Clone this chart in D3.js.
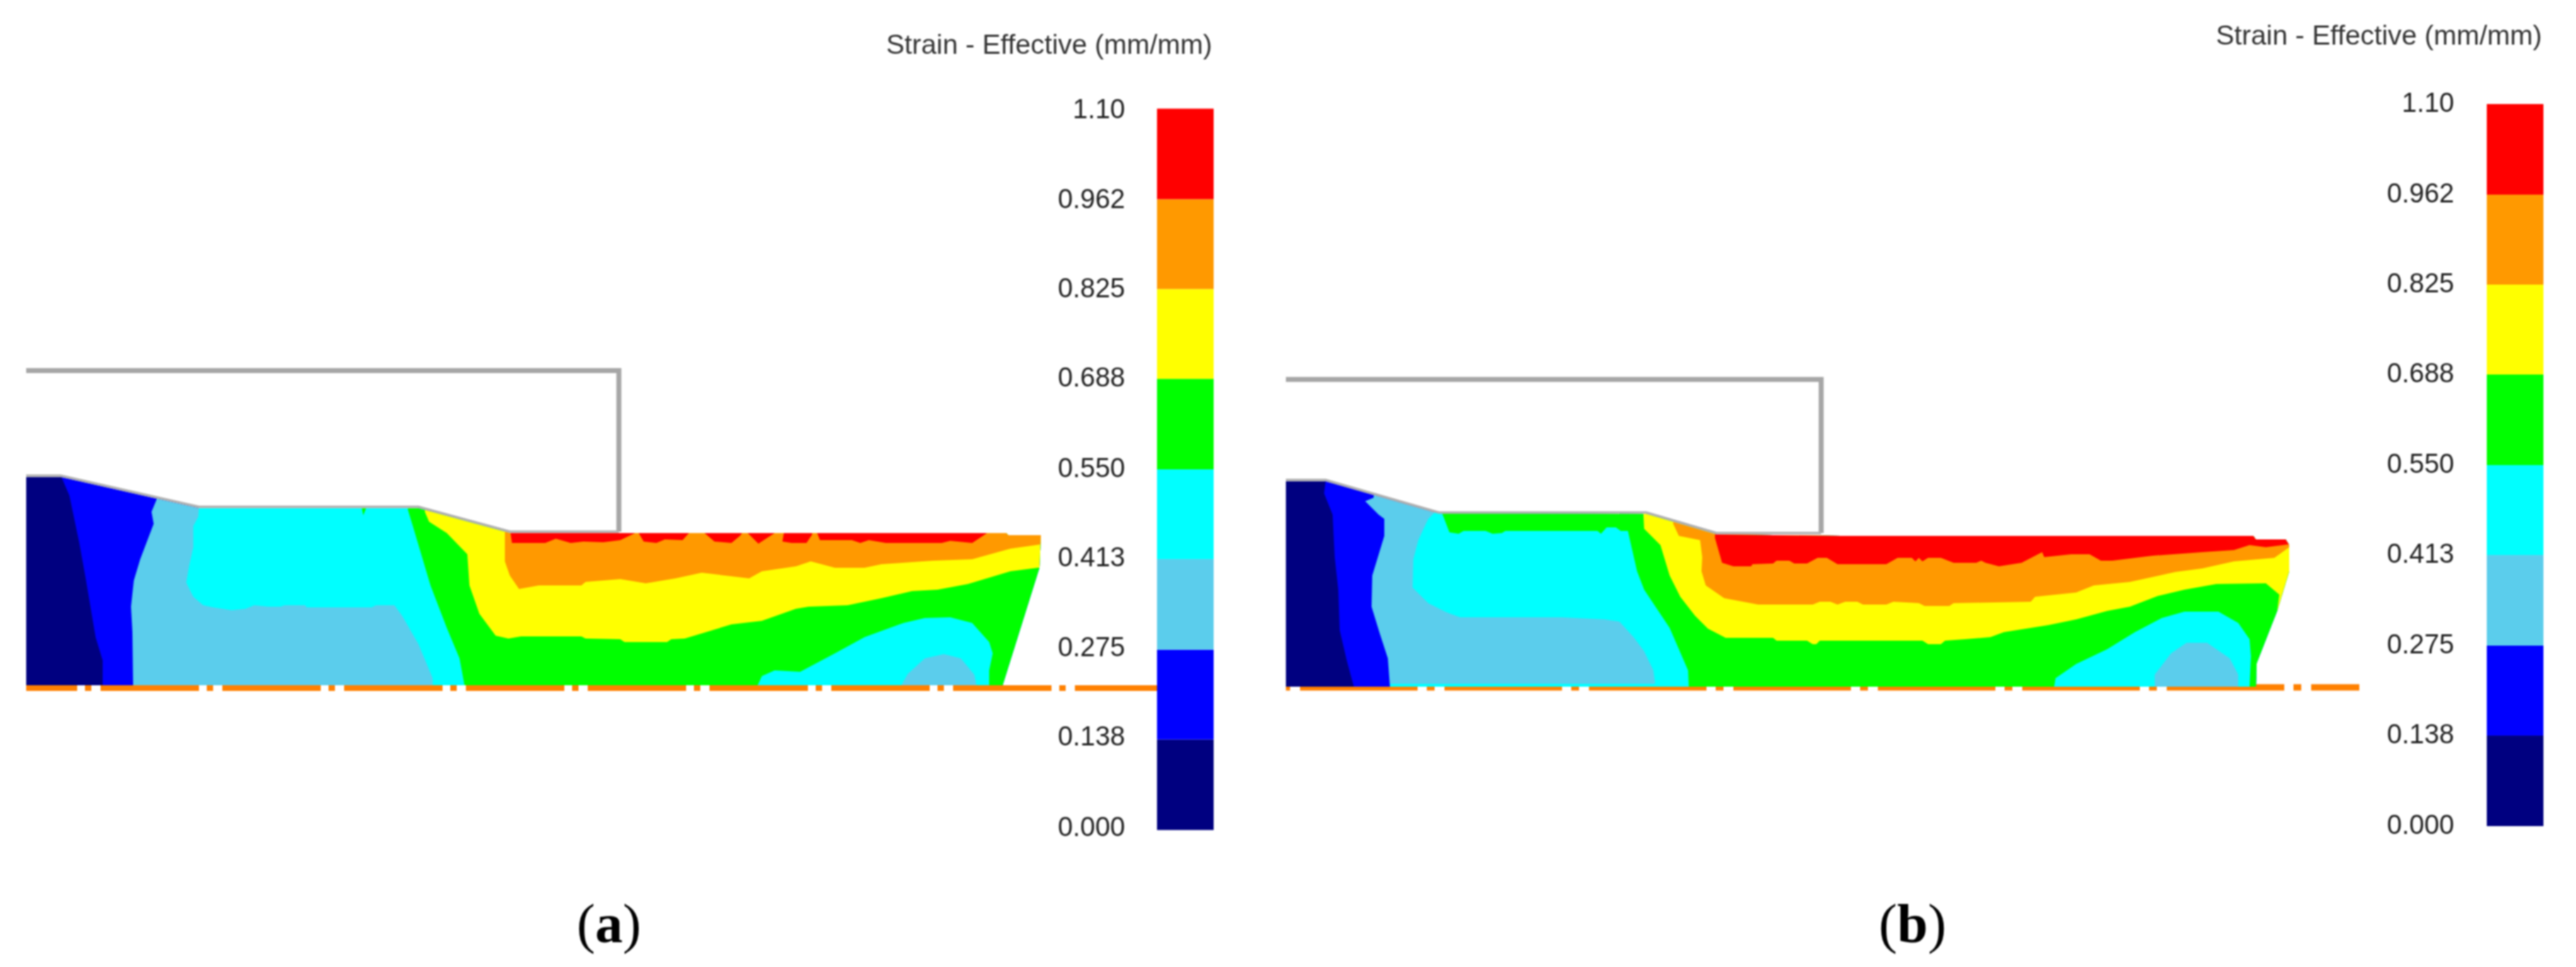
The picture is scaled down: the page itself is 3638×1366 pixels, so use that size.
<!DOCTYPE html>
<html>
<head>
<meta charset="utf-8">
<script src="https://cdnjs.cloudflare.com/ajax/libs/d3/7.8.5/d3.min.js"></script>
<style>
  html, body { margin: 0; padding: 0; background: #fff; }
  svg { display: block; filter: blur(0.8px); }
</style>
</head>
<body>
<svg id="chart" width="3638" height="1366"></svg>
<script>
// legend
const legendTitle = 'Strain - Effective (mm/mm)'
const legendValues = [0, 0.138, 0.275, 0.413, 0.55, 0.688, 0.825, 0.962, 1.10]
const legendLabels = ['0.000', '0.138', '0.275', '0.413', '0.550', '0.688', '0.825', '0.962', '1.10']
const bandColors = ['#000080', '#0000ff', '#5bcdec', '#00ffff', '#00ff00', '#ffff00', '#ff9900', '#ff0000']

// all outlines below are model coords (x along the part, y up from the axis)

// ---- panel a
const aBody = [[0,0],[0,294],[49,294],[244,250],[554,250],[683,215],[1384,215],[1387,212],[1433,212],[1431,166],[1379,0]]
const aSurface = [[0,296],[49,296],[244,252],[554,252],[683,217],[837,217]]
const aTool = [[0,444.5],[837,444.5],[837,217]]
const aBlue = [[49,296],[61,268],[75,201],[84,151],[98,68],[108,35],[108,0],[1500,0],[1500,300],[49,300]]
const aLight = [[184,262],[177,245],[180,228],[161,178],[152,148],[148,111],[150,75],[151,0],[1500,0],[1500,300],[184,300]]
const aCyan = [[244,250],[243,238],[236,225],[236,195],[230,168],[226,145],[236,125],[250,113],[264,110],[290,106],[310,108],[322,113],[342,111],[359,111],[365,113],[394,113],[396,110],[488,110],[494,113],[520,113],[531,98],[554,58],[574,10],[574,0],[1500,0],[1500,300],[244,300]]
const aGreen = [[539,248],[546,225],[571,141],[594,81],[612,38],[619,0],[1500,0],[1500,300],[539,300]]
const aGreenSpot = [[474,250],[480,250],[476,240]]
const aYellow = [[563,245],[569,231],[594,215],[623,185],[626,141],[640,101],[663,70],[681,66],[699,69],[784,69],[790,66],[839,65],[845,61],[905,61],[911,65],[930,66],[960,75],[996,86],[1039,91],[1087,108],[1105,111],[1160,113],[1208,123],[1251,133],[1287,135],[1330,143],[1390,161],[1429,166],[1500,166],[1500,300],[563,300]]
const aOrange = [[676,300],[676,175],[683,155],[696,136],[724,141],[784,141],[790,146],[839,150],[875,144],[917,151],[954,159],[1021,151],[1039,161],[1087,168],[1108,175],[1142,166],[1184,166],[1208,171],[1281,176],[1336,178],[1390,193],[1433,199],[1500,199],[1500,300]]
const aRed = [
  [[684,215],[686,201],[733,201],[748,207],[769,201],[787,203],[815,202],[839,205],[860,215]],
  [[865,215],[872,203],[890,201],[902,206],[927,205],[936,215]],
  [[958,215],[972,203],[996,201],[1008,211],[1011,215]],
  [[1019,215],[1034,200],[1057,215]],
  [[1070,215],[1068,203],[1081,201],[1102,201],[1110,213],[1110,215]],
  [[1117,215],[1121,205],[1166,205],[1178,201],[1190,205],[1214,201],[1293,201],[1305,204],[1336,201],[1357,215]]
]
const aCyanIsland = [[1033,0],[1039,13],[1057,21],[1093,19],[1142,45],[1184,68],[1239,88],[1269,95],[1305,96],[1336,88],[1360,61],[1365,45],[1360,21],[1360,0]]
const aLightIsland = [[1236,0],[1245,16],[1269,38],[1296,44],[1320,38],[1339,15],[1342,0]]

// ---- panel b
const bBody = [[0,0],[0,290],[56,290],[214,245],[509,244],[608,215],[784,213],[1366,213],[1370,208],[1412,208],[1417,200],[1417,163],[1400,107],[1371,33],[1370,0]]
const bSurface = [[0,292],[56,292],[216,246],[509,246],[608,217],[756,217]]
const bTool = [[0,434],[756,434],[756,217]]
const bBlue = [[56,290],[54,273],[66,243],[69,183],[74,137],[76,80],[86,37],[96,0],[1500,0],[1500,300],[56,300]]
const bLight = [[124,300],[124,267],[112,262],[131,243],[139,237],[139,213],[129,180],[122,157],[121,113],[132,77],[144,40],[147,0],[1500,0],[1500,300]]
const bCyan = [[211,247],[201,237],[187,207],[180,180],[179,140],[201,118],[227,105],[246,98],[389,98],[450,95],[471,92],[491,70],[506,50],[519,23],[522,0],[1500,0],[1500,300],[211,300]]
const bCyanStrip = [[147,0],[147,4],[522,4],[522,0]]
const bGreen = [[221,300],[221,244],[231,218],[244,216],[251,220],[282,220],[292,216],[305,217],[310,220],[440,220],[445,216],[453,225],[466,225],[473,220],[483,220],[496,163],[506,137],[542,83],[555,53],[568,23],[569,0],[1500,0],[1500,300]]
const bYellow = [[505,300],[505,242],[506,223],[529,200],[542,157],[557,127],[578,100],[596,82],[621,69],[688,69],[693,65],[736,65],[744,60],[749,60],[754,65],[899,65],[907,60],[925,60],[931,65],[959,67],[995,70],[1014,77],[1077,87],[1116,95],[1160,107],[1192,113],[1231,128],[1269,137],[1314,145],[1384,146],[1403,130],[1400,107],[1500,107],[1500,300]]
const bOrange = [[547,300],[547,230],[555,213],[585,207],[588,183],[587,163],[593,143],[619,125],[667,116],[744,116],[754,120],[769,120],[779,116],[790,120],[807,120],[815,116],[848,116],[858,120],[894,118],[902,114],[937,114],[943,118],[1052,120],[1058,127],[1116,133],[1141,143],[1192,148],[1256,162],[1294,167],[1339,177],[1396,182],[1417,197],[1500,197],[1500,300]]
const bRed = [[[606,300],[606,210],[616,175],[632,170],[657,170],[659,173],[688,174],[693,178],[711,178],[718,174],[736,174],[751,182],[764,182],[779,173],[848,173],[864,182],[884,182],[889,177],[894,182],[899,177],[907,182],[925,182],[943,175],[975,175],[982,178],[988,175],[1007,170],[1039,175],[1068,190],[1071,183],[1109,187],[1135,187],[1151,178],[1167,178],[1224,185],[1294,190],[1339,193],[1361,200],[1384,197],[1416,201],[1500,201],[1500,300]]]
const bCyanIsland = [[1085,0],[1087,12],[1116,32],[1160,53],[1199,77],[1237,97],[1269,106],[1317,106],[1345,90],[1361,67],[1363,43],[1361,0]]
const bLightIsland = [[1227,0],[1227,17],[1250,47],[1272,62],[1301,62],[1333,40],[1345,17],[1345,0]]

// layout, one entry per panel
const panels = [
  {
    id: 'a', ox: 37, oy: 968, axisY: 972, axisW: 8, axisEnd: 1636,
    dash: '139 11 9 13', dashOffset: 67,
    barX: 1634, barW: 80, barBottom: 1172.5, barTop: 153.5,
    labelRight: 1589, labelBottom: 1168, labelTop: 154,
    titleX: 1712, titleY: 76, captionX: 860,
    body: aBody, surface: aSurface, tool: aTool,
    layers: [[1, aBlue], [2, aLight], [3, aCyan], [4, aGreen], [4, aGreenSpot], [5, aYellow], [6, aOrange],
      ...aRed.map(p => [7, p]), [3, aCyanIsland], [2, aLightIsland]]
  },
  {
    id: 'b', ox: 1816, oy: 970, axisY: 971, axisW: 9, axisEnd: 3332,
    dash: '166 13 11 14', dashOffset: 184,
    barX: 3512, barW: 80, barBottom: 1167, barTop: 147,
    labelRight: 3466, labelBottom: 1165, labelTop: 145,
    titleX: 3590, titleY: 63, captionX: 2701,
    body: bBody, surface: bSurface, tool: bTool,
    layers: [[1, bBlue], [2, bLight], [3, bCyan], [3, bCyanStrip], [4, bGreen], [5, bYellow], [6, bOrange],
      ...bRed.map(p => [7, p]), [3, bCyanIsland], [2, bLightIsland]]
  }
]

const svg = d3.select('#chart')
const bandColor = d3.scaleOrdinal(d3.range(bandColors.length), bandColors)

function drawPanel(p) {
  const x = d3.scaleLinear().domain([0, 1600]).range([p.ox, p.ox + 1600])
  const y = d3.scaleLinear().domain([0, 500]).range([p.oy, p.oy - 500])
  const line = d3.line().x(d => x(d[0])).y(d => y(d[1]))
  const g = svg.append('g').attr('class', 'panel-' + p.id)

  // symmetry axis
  g.append('line')
    .attr('x1', p.ox).attr('x2', p.axisEnd)
    .attr('y1', p.axisY).attr('y2', p.axisY)
    .attr('stroke', '#ff8000').attr('stroke-width', p.axisW)
    .attr('stroke-dasharray', p.dash).attr('stroke-dashoffset', p.dashOffset)

  g.append('clipPath').attr('id', 'clip-' + p.id)
    .append('path').attr('d', line(p.body) + 'Z')

  // contour bands, navy body first then painted upward
  g.append('path').attr('d', line(p.body) + 'Z').attr('fill', bandColor(0))
  g.append('g').attr('clip-path', `url(#clip-${p.id})`)
    .selectAll('path').data(p.layers).join('path')
    .attr('d', d => line(d[1]) + 'Z')
    .attr('fill', d => bandColor(d[0]))

  // die
  g.append('path').attr('d', line(p.tool)).attr('fill', 'none')
    .attr('stroke', '#a6a6a6').attr('stroke-width', 7)
  g.append('path').attr('d', line(p.surface)).attr('fill', 'none')
    .attr('stroke', '#b0b0b0').attr('stroke-width', 3.5)

  // colour bar
  const bar = d3.scaleLinear().domain([0, 1.10]).range([p.barBottom, p.barTop])
  g.append('g').selectAll('rect').data(d3.range(bandColors.length)).join('rect')
    .attr('x', p.barX).attr('width', p.barW)
    .attr('y', i => bar(legendValues[i + 1]))
    .attr('height', i => bar(legendValues[i]) - bar(legendValues[i + 1]))
    .attr('fill', i => bandColor(i))

  const labelScale = d3.scaleLinear().domain([0, 1.10]).range([p.labelBottom, p.labelTop])
  const axis = d3.axisLeft(labelScale).tickValues(legendValues).tickSize(0).tickPadding(0)
    .tickFormat((d, i) => legendLabels[i])
  const ag = g.append('g').attr('transform', `translate(${p.labelRight},0)`).call(axis)
  ag.select('.domain').remove()
  ag.selectAll('text').attr('font-family', 'Liberation Sans').attr('font-size', 38).attr('fill', '#222')

  g.append('text').text(legendTitle)
    .attr('x', p.titleX).attr('y', p.titleY).attr('text-anchor', 'end')
    .attr('font-family', 'Liberation Sans').attr('font-size', 38.8).attr('fill', '#333')

  // caption
  const cap = g.append('text').attr('x', p.captionX).attr('y', 1331).attr('text-anchor', 'middle')
    .attr('font-family', 'Liberation Serif').attr('font-size', 78).attr('fill', '#000')
  cap.append('tspan').text('(')
  cap.append('tspan').text(p.id).attr('font-weight', 'bold')
  cap.append('tspan').text(')')
}

panels.forEach(drawPanel)
</script>
</body>
</html>
